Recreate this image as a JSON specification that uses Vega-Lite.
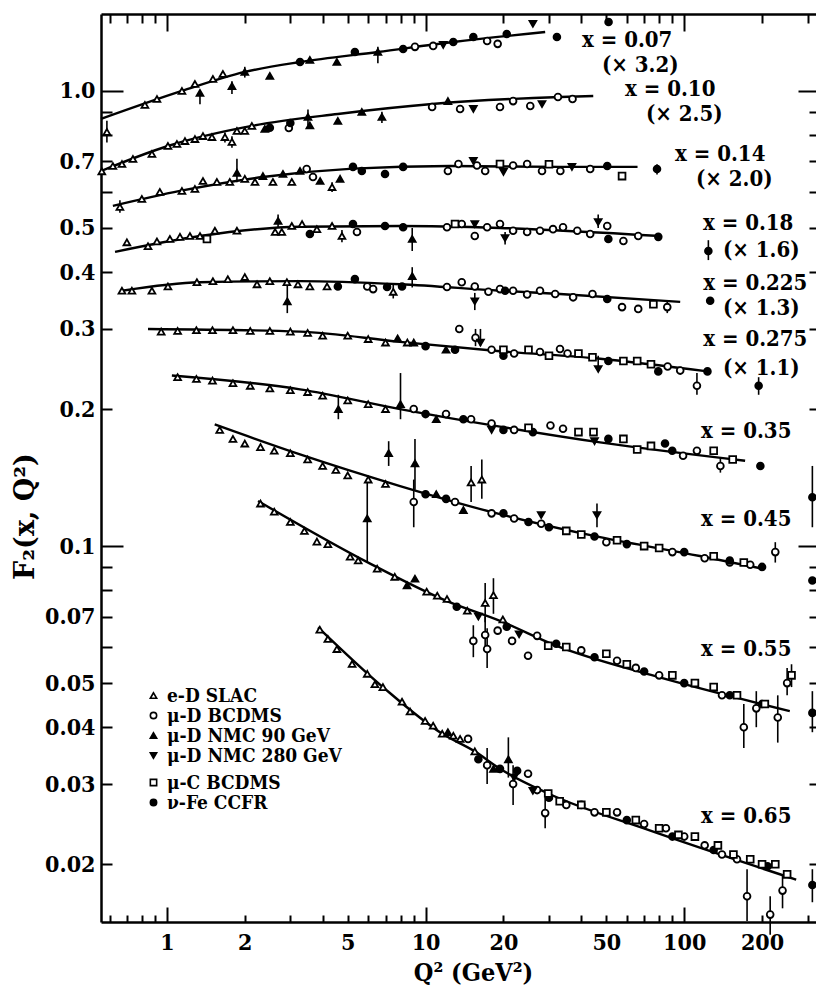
{
  "$schema": "https://vega.github.io/schema/vega-lite/v6.json",
  "autosize": "none",
  "width": 719,
  "height": 908,
  "padding": {"left": 101, "top": 14, "right": 0, "bottom": 72},
  "background": "white",
  "config": {
    "view": {"stroke": null},
    "font": "DejaVu Serif Condensed, DejaVu Serif",
    "axis": {"grid": false, "domainColor": "black", "domainWidth": 2.5, "tickColor": "black", "tickWidth": 2, "labelColor": "black", "labelFont": "DejaVu Serif Condensed, DejaVu Serif", "labelFontWeight": "bold", "labelFontSize": 23, "titleFont": "DejaVu Serif Condensed, DejaVu Serif", "titleFontWeight": "bold", "titleColor": "black", "titleFontSize": 25, "labelFlush": false, "labelOverlap": false},
    "legend": {"orient": "none", "legendX": 43, "legendY": 672, "title": null, "padding": 0, "rowPadding": -3,
      "symbolSize": 40, "symbolStrokeWidth": 1.6, "labelOffset": 4, "labelLimit": 400,
      "labelFont": "DejaVu Serif Condensed, DejaVu Serif", "labelFontWeight": "bold", "labelFontSize": 19, "labelColor": "black"}
  },
  "datasets": {
    "fits": [
      {"k":"0.07","q":0.556,"f":0.868},{"k":"0.07","q":1.143,"f":1.0},{"k":"0.07","q":2.0,"f":1.101},{"k":"0.07","q":3.27,"f":1.158},{"k":"0.07","q":6.54,"f":1.218},{"k":"0.07","q":12.8,"f":1.281},{"k":"0.07","q":29,"f":1.348},
      {"k":"0.10","q":0.556,"f":0.667},{"k":"0.10","q":1.009,"f":0.757},{"k":"0.10","q":2.13,"f":0.838},{"k":"0.10","q":4.58,"f":0.89},{"k":"0.10","q":10.6,"f":0.936},{"k":"0.10","q":33.2,"f":0.97},{"k":"0.10","q":44.5,"f":0.975},
      {"k":"0.14","q":0.618,"f":0.559},{"k":"0.14","q":1.123,"f":0.603},{"k":"0.14","q":2.35,"f":0.647},{"k":"0.14","q":5.24,"f":0.675},{"k":"0.14","q":12.4,"f":0.684},{"k":"0.14","q":33,"f":0.681},{"k":"0.14","q":66,"f":0.681},
      {"k":"0.18","q":0.63,"f":0.443},{"k":"0.18","q":1.342,"f":0.48},{"k":"0.18","q":3.27,"f":0.503},{"k":"0.18","q":7.97,"f":0.505},{"k":"0.18","q":19.4,"f":0.5},{"k":"0.18","q":80.8,"f":0.48},
      {"k":"0.225","q":0.67,"f":0.364},{"k":"0.225","q":1.342,"f":0.38},{"k":"0.225","q":3.27,"f":0.382},{"k":"0.225","q":7.97,"f":0.376},{"k":"0.225","q":19.4,"f":0.364},{"k":"0.225","q":33.1,"f":0.358},{"k":"0.225","q":96.5,"f":0.344},
      {"k":"0.275","q":0.845,"f":0.3},{"k":"0.275","q":3.27,"f":0.296},{"k":"0.275","q":7.97,"f":0.281},{"k":"0.275","q":19.4,"f":0.268},{"k":"0.275","q":47.3,"f":0.258},{"k":"0.275","q":123,"f":0.242},
      {"k":"0.35","q":1.045,"f":0.237},{"k":"0.35","q":3.27,"f":0.221},{"k":"0.35","q":7.97,"f":0.2},{"k":"0.35","q":19.4,"f":0.183},{"k":"0.35","q":47.3,"f":0.169},{"k":"0.35","q":172,"f":0.154},
      {"k":"0.45","q":1.53,"f":0.185},{"k":"0.45","q":3.27,"f":0.159},{"k":"0.45","q":7.97,"f":0.1355},{"k":"0.45","q":19.4,"f":0.1175},{"k":"0.45","q":47.3,"f":0.1046},{"k":"0.45","q":115,"f":0.0951},{"k":"0.45","q":205,"f":0.089},
      {"k":"0.55","q":2.25,"f":0.1256},{"k":"0.55","q":5.95,"f":0.0922},{"k":"0.55","q":12.1,"f":0.0757},{"k":"0.55","q":19.4,"f":0.0685},{"k":"0.55","q":32.3,"f":0.0603},{"k":"0.55","q":74.4,"f":0.0521},{"k":"0.55","q":256,"f":0.0434},
      {"k":"0.65","q":3.84,"f":0.0663},{"k":"0.65","q":6.84,"f":0.049},{"k":"0.65","q":11.6,"f":0.0387},{"k":"0.65","q":15.5,"f":0.0354},{"k":"0.65","q":19.4,"f":0.0324},{"k":"0.65","q":29.8,"f":0.0286},{"k":"0.65","q":74,"f":0.0237},{"k":"0.65","q":271,"f":0.0185}
    ],
    "pts": [
      {"q":0.586,"f":0.813,"s":"A","lo":0.77,"hi":0.86},{"q":0.822,"f":0.932,"s":"A"},{"q":0.915,"f":0.96,"s":"A"},{"q":1.143,"f":1.0,"s":"A"},{"q":1.283,"f":1.036,"s":"A"},{"q":1.506,"f":1.063,"s":"A"},{"q":1.646,"f":1.09,"s":"A"},
      {"q":1.342,"f":0.99,"s":"C","lo":0.935,"hi":1.0},{"q":1.784,"f":1.025,"s":"C","lo":0.985,"hi":1.05},{"q":2.0,"f":1.101,"s":"C","lo":1.07,"hi":1.13},{"q":2.5,"f":1.079,"s":"C"},{"q":3.57,"f":1.17,"s":"C"},{"q":4.54,"f":1.158,"s":"C"},{"q":6.54,"f":1.218,"s":"C","lo":1.15,"hi":1.25},
      {"q":3.27,"f":1.158,"s":"F"},{"q":5.33,"f":1.218,"s":"F"},{"q":8.19,"f":1.237,"s":"F"},{"q":12.8,"f":1.281,"s":"F"},{"q":15.3,"f":1.314,"s":"F"},{"q":20.6,"f":1.334,"s":"F"},{"q":32.2,"f":1.314,"s":"F"},{"q":51,"f":1.418,"s":"F"},
      {"q":9.1,"f":1.25,"s":"B"},{"q":10.7,"f":1.256,"s":"B"},{"q":17.3,"f":1.288,"s":"B"},{"q":19.0,"f":1.269,"s":"B"},
      {"q":11.7,"f":1.262,"s":"D"},{"q":26.0,"f":1.404,"s":"D"},

      {"q":0.56,"f":0.666,"s":"A"},{"q":0.618,"f":0.684,"s":"A"},{"q":0.67,"f":0.691,"s":"A"},{"q":0.739,"f":0.709,"s":"A"},{"q":0.875,"f":0.727,"s":"A"},{"q":1.009,"f":0.757,"s":"A"},{"q":1.093,"f":0.765,"s":"A"},{"q":1.174,"f":0.776,"s":"A"},{"q":1.283,"f":0.784,"s":"A"},{"q":1.378,"f":0.796,"s":"A"},{"q":1.493,"f":0.792,"s":"A"},{"q":1.676,"f":0.792,"s":"A","lo":0.77,"hi":0.81},{"q":1.784,"f":0.773,"s":"A","lo":0.75,"hi":0.795},{"q":1.865,"f":0.817,"s":"A"},{"q":2.0,"f":0.817,"s":"A"},{"q":2.13,"f":0.838,"s":"A"},
      {"q":2.39,"f":0.825,"s":"C"},{"q":3.51,"f":0.877,"s":"C","lo":0.84,"hi":0.91},{"q":3.57,"f":0.84,"s":"C"},{"q":4.58,"f":0.859,"s":"C"},{"q":5.67,"f":0.899,"s":"C"},{"q":6.78,"f":0.877,"s":"C","lo":0.85,"hi":0.9},{"q":12.2,"f":0.95,"s":"C"},
      {"q":2.5,"f":0.83,"s":"F"},{"q":3.0,"f":0.85,"s":"F"},
      {"q":2.96,"f":0.829,"s":"B"},{"q":10.6,"f":0.922,"s":"B"},{"q":13.6,"f":0.913,"s":"B"},{"q":19.4,"f":0.922,"s":"B"},{"q":21.8,"f":0.95,"s":"B"},{"q":25.4,"f":0.927,"s":"B"},{"q":32.5,"f":0.97,"s":"B"},{"q":37,"f":0.96,"s":"B"},
      {"q":15.3,"f":0.913,"s":"D"},{"q":28.2,"f":0.936,"s":"D"},

      {"q":0.658,"f":0.556,"s":"A","lo":0.54,"hi":0.575},{"q":0.8,"f":0.579,"s":"A"},{"q":0.939,"f":0.6,"s":"A"},{"q":1.143,"f":0.603,"s":"A"},{"q":1.283,"f":0.609,"s":"A"},{"q":1.378,"f":0.634,"s":"A"},{"q":1.56,"f":0.631,"s":"A"},{"q":1.75,"f":0.631,"s":"A"},{"q":2.0,"f":0.641,"s":"A"},{"q":2.19,"f":0.631,"s":"A"},{"q":2.57,"f":0.631,"s":"A"},{"q":3.04,"f":0.631,"s":"A"},{"q":4.35,"f":0.615,"s":"A","lo":0.6,"hi":0.63},
      {"q":1.865,"f":0.661,"s":"C","lo":0.63,"hi":0.71},{"q":2.35,"f":0.65,"s":"C"},{"q":2.81,"f":0.657,"s":"C"},{"q":3.27,"f":0.667,"s":"C"},{"q":3.91,"f":0.634,"s":"C"},{"q":4.67,"f":0.641,"s":"C"},
      {"q":3.47,"f":0.674,"s":"B"},{"q":3.67,"f":0.647,"s":"B"},{"q":12.2,"f":0.667,"s":"B"},{"q":13.4,"f":0.691,"s":"B"},{"q":15.8,"f":0.686,"s":"B"},{"q":17.0,"f":0.667,"s":"B"},{"q":21.8,"f":0.686,"s":"B"},{"q":24.7,"f":0.691,"s":"B"},{"q":28.2,"f":0.667,"s":"B"},{"q":33.2,"f":0.667,"s":"B"},{"q":43.3,"f":0.674,"s":"B"},
      {"q":5.24,"f":0.681,"s":"F"},{"q":5.67,"f":0.667,"s":"F"},{"q":6.97,"f":0.657,"s":"F"},{"q":8.19,"f":0.681,"s":"F"},{"q":50.4,"f":0.684,"s":"F"},{"q":78.5,"f":0.674,"s":"F","lo":0.655,"hi":0.69},
      {"q":19.4,"f":0.691,"s":"E"},{"q":30,"f":0.69,"s":"E"},{"q":57.5,"f":0.65,"s":"E"},
      {"q":15.3,"f":0.702,"s":"D"},{"q":20.0,"f":0.664,"s":"D"},{"q":36.8,"f":0.681,"s":"D"},

      {"q":0.7,"f":0.465,"s":"A"},{"q":0.845,"f":0.456,"s":"A"},{"q":0.915,"f":0.467,"s":"A"},{"q":1.027,"f":0.473,"s":"A"},{"q":1.123,"f":0.478,"s":"A"},{"q":1.227,"f":0.48,"s":"A"},{"q":1.342,"f":0.48,"s":"A"},{"q":1.533,"f":0.493,"s":"A"},{"q":1.865,"f":0.493,"s":"A"},{"q":2.62,"f":0.49,"s":"A"},{"q":2.78,"f":0.49,"s":"A"},{"q":3.04,"f":0.505,"s":"A"},{"q":3.33,"f":0.51,"s":"A"},{"q":3.8,"f":0.497,"s":"A"},{"q":4.35,"f":0.505,"s":"A"},{"q":4.75,"f":0.48,"s":"A","lo":0.465,"hi":0.495},
      {"q":1.428,"f":0.473,"s":"E"},{"q":13.0,"f":0.51,"s":"E"},
      {"q":2.69,"f":0.518,"s":"C","lo":0.5,"hi":0.535},{"q":8.88,"f":0.473,"s":"C","lo":0.445,"hi":0.5},
      {"q":3.57,"f":0.485,"s":"F"},{"q":5.24,"f":0.51,"s":"F"},{"q":6.97,"f":0.505,"s":"F"},{"q":8.19,"f":0.502,"s":"F"},{"q":50.9,"f":0.473,"s":"F"},{"q":79.4,"f":0.478,"s":"F"},{"q":124,"f":0.445,"s":"F","lo":0.425,"hi":0.47},
      {"q":5.43,"f":0.49,"s":"B"},{"q":12.1,"f":0.502,"s":"B"},{"q":13.8,"f":0.51,"s":"B"},{"q":15.5,"f":0.48,"s":"B"},{"q":17.3,"f":0.502,"s":"B"},{"q":19.4,"f":0.51,"s":"B"},{"q":21.8,"f":0.493,"s":"B"},{"q":24.7,"f":0.49,"s":"B"},{"q":27.7,"f":0.493,"s":"B"},{"q":31.1,"f":0.497,"s":"B"},{"q":34,"f":0.502,"s":"B"},{"q":38.6,"f":0.493,"s":"B"},{"q":43.3,"f":0.485,"s":"B"},{"q":50.4,"f":0.505,"s":"B"},{"q":58.2,"f":0.468,"s":"B"},{"q":66.4,"f":0.48,"s":"B"},
      {"q":15.5,"f":0.51,"s":"D"},{"q":20.3,"f":0.475,"s":"D","lo":0.46,"hi":0.49},{"q":46.5,"f":0.515,"s":"D","lo":0.5,"hi":0.535},

      {"q":0.67,"f":0.364,"s":"A"},{"q":0.732,"f":0.364,"s":"A"},{"q":0.875,"f":0.364,"s":"A"},{"q":1.009,"f":0.372,"s":"A"},{"q":1.306,"f":0.38,"s":"A"},{"q":1.506,"f":0.382,"s":"A"},{"q":1.72,"f":0.386,"s":"A"},{"q":2.0,"f":0.39,"s":"A"},{"q":2.23,"f":0.376,"s":"A"},{"q":2.5,"f":0.382,"s":"A"},{"q":2.91,"f":0.38,"s":"A"},{"q":3.21,"f":0.376,"s":"A"},{"q":3.57,"f":0.372,"s":"A"},{"q":4.16,"f":0.372,"s":"A"},{"q":7.5,"f":0.362,"s":"A","lo":0.35,"hi":0.375},
      {"q":2.92,"f":0.345,"s":"C","lo":0.325,"hi":0.375},{"q":8.88,"f":0.392,"s":"C","lo":0.37,"hi":0.41},
      {"q":4.58,"f":0.372,"s":"F"},{"q":5.33,"f":0.386,"s":"F"},{"q":7.1,"f":0.371,"s":"F"},{"q":8.11,"f":0.372,"s":"F"},{"q":20.3,"f":0.364,"s":"F"},{"q":50.4,"f":0.349,"s":"F"},{"q":126,"f":0.346,"s":"F"},
      {"q":5.95,"f":0.372,"s":"B"},{"q":6.27,"f":0.367,"s":"B"},{"q":12.1,"f":0.371,"s":"B"},{"q":13.8,"f":0.38,"s":"B"},{"q":15.5,"f":0.372,"s":"B"},{"q":17.5,"f":0.362,"s":"B"},{"q":19.4,"f":0.367,"s":"B"},{"q":21.8,"f":0.364,"s":"B"},{"q":24.7,"f":0.357,"s":"B"},{"q":27.7,"f":0.364,"s":"B"},{"q":31.7,"f":0.358,"s":"B"},{"q":37.2,"f":0.352,"s":"B"},{"q":44.2,"f":0.358,"s":"B"},{"q":57.5,"f":0.335,"s":"B"},{"q":66.4,"f":0.332,"s":"B"},{"q":86,"f":0.335,"s":"B","lo":0.325,"hi":0.345},
      {"q":76,"f":0.34,"s":"E"},
      {"q":15.5,"f":0.345,"s":"D","lo":0.33,"hi":0.36},

      {"q":0.95,"f":0.296,"s":"A"},{"q":1.1,"f":0.297,"s":"A"},{"q":1.3,"f":0.298,"s":"A"},{"q":1.5,"f":0.298,"s":"A"},{"q":1.8,"f":0.298,"s":"A"},{"q":2.1,"f":0.297,"s":"A"},{"q":2.5,"f":0.297,"s":"A"},{"q":3,"f":0.296,"s":"A"},{"q":3.5,"f":0.294,"s":"A"},{"q":4,"f":0.29,"s":"A"},{"q":5,"f":0.29,"s":"A"},{"q":6,"f":0.285,"s":"A"},{"q":7,"f":0.28,"s":"A"},{"q":8.5,"f":0.28,"s":"A"},
      {"q":7.8,"f":0.286,"s":"C"},{"q":9,"f":0.28,"s":"C"},{"q":12,"f":0.27,"s":"C"},
      {"q":10,"f":0.275,"s":"F"},{"q":13,"f":0.27,"s":"F"},{"q":20,"f":0.262,"s":"F"},{"q":50.9,"f":0.255,"s":"F"},{"q":79.4,"f":0.242,"s":"F"},{"q":123,"f":0.242,"s":"F"},{"q":194,"f":0.225,"s":"F","lo":0.215,"hi":0.235},
      {"q":13.5,"f":0.3,"s":"B"},{"q":15.6,"f":0.287,"s":"B","lo":0.275,"hi":0.3},{"q":18,"f":0.27,"s":"B"},{"q":22,"f":0.265,"s":"B"},{"q":27.7,"f":0.267,"s":"B"},{"q":33.1,"f":0.271,"s":"B"},{"q":35.4,"f":0.265,"s":"B"},{"q":86.3,"f":0.248,"s":"B"},{"q":96.5,"f":0.243,"s":"B"},{"q":112,"f":0.225,"s":"B","lo":0.215,"hi":0.24},
      {"q":20,"f":0.27,"s":"E"},{"q":25,"f":0.27,"s":"E"},{"q":30,"f":0.262,"s":"E"},{"q":39,"f":0.265,"s":"E"},{"q":44.2,"f":0.26,"s":"E"},{"q":58.2,"f":0.255,"s":"E"},{"q":65.8,"f":0.255,"s":"E"},{"q":74.4,"f":0.251,"s":"E"},
      {"q":16.3,"f":0.28,"s":"D","lo":0.275,"hi":0.3},{"q":46.5,"f":0.245,"s":"D","lo":0.243,"hi":0.262},

      {"q":1.1,"f":0.235,"s":"A"},{"q":1.3,"f":0.233,"s":"A"},{"q":1.5,"f":0.231,"s":"A"},{"q":1.8,"f":0.228,"s":"A"},{"q":2.1,"f":0.225,"s":"A"},{"q":2.5,"f":0.222,"s":"A"},{"q":3.0,"f":0.22,"s":"A"},{"q":3.5,"f":0.218,"s":"A"},{"q":4,"f":0.214,"s":"A"},{"q":5,"f":0.209,"s":"A"},{"q":6,"f":0.205,"s":"A"},{"q":7,"f":0.2,"s":"A"},
      {"q":4.6,"f":0.2,"s":"C","lo":0.19,"hi":0.215},{"q":8,"f":0.205,"s":"C","lo":0.19,"hi":0.24},{"q":11,"f":0.19,"s":"C"},
      {"q":10,"f":0.195,"s":"F"},{"q":14,"f":0.19,"s":"F"},{"q":20,"f":0.18,"s":"F"},{"q":26,"f":0.178,"s":"F"},{"q":50.9,"f":0.172,"s":"F"},{"q":84.3,"f":0.168,"s":"F"},{"q":89.9,"f":0.162,"s":"F"},{"q":197,"f":0.15,"s":"F"},
      {"q":9,"f":0.2,"s":"B"},{"q":12,"f":0.195,"s":"B"},{"q":15,"f":0.19,"s":"B"},{"q":18,"f":0.186,"s":"B"},{"q":22,"f":0.18,"s":"B"},{"q":30.4,"f":0.184,"s":"B"},{"q":34,"f":0.181,"s":"B"},{"q":99,"f":0.158,"s":"B"},{"q":112,"f":0.162,"s":"B"},{"q":138,"f":0.15,"s":"B","lo":0.145,"hi":0.156},
      {"q":25,"f":0.182,"s":"E"},{"q":39,"f":0.178,"s":"E"},{"q":44.6,"f":0.178,"s":"E"},{"q":58.2,"f":0.172,"s":"E"},{"q":65.8,"f":0.163,"s":"E"},{"q":74.4,"f":0.166,"s":"E"},{"q":130,"f":0.162,"s":"E"},{"q":154,"f":0.155,"s":"E"},
      {"q":18,"f":0.18,"s":"D"},{"q":45,"f":0.17,"s":"D"},

      {"q":1.6,"f":0.18,"s":"A"},{"q":1.8,"f":0.172,"s":"A"},{"q":2.0,"f":0.168,"s":"A"},{"q":2.3,"f":0.165,"s":"A"},{"q":2.6,"f":0.162,"s":"A"},{"q":3,"f":0.16,"s":"A"},{"q":3.5,"f":0.155,"s":"A"},{"q":4,"f":0.15,"s":"A"},{"q":4.5,"f":0.147,"s":"A"},{"q":5,"f":0.143,"s":"A"},{"q":6,"f":0.14,"s":"A"},{"q":7,"f":0.137,"s":"A"},{"q":15,"f":0.138,"s":"A","lo":0.125,"hi":0.15},{"q":16.5,"f":0.14,"s":"A","lo":0.127,"hi":0.155},
      {"q":5.95,"f":0.115,"s":"C","lo":0.0922,"hi":0.14},{"q":7.2,"f":0.16,"s":"C","lo":0.15,"hi":0.17},{"q":9.1,"f":0.152,"s":"C","lo":0.133,"hi":0.172},{"q":11,"f":0.13,"s":"C"},{"q":14,"f":0.12,"s":"C"},
      {"q":10,"f":0.13,"s":"F"},{"q":12,"f":0.127,"s":"F"},{"q":20,"f":0.118,"s":"F"},{"q":25,"f":0.113,"s":"F"},{"q":30,"f":0.11,"s":"F"},{"q":45,"f":0.105,"s":"F"},{"q":60,"f":0.101,"s":"F"},{"q":100,"f":0.097,"s":"F"},{"q":150,"f":0.093,"s":"F"},{"q":200,"f":0.09,"s":"F"},
      {"q":9,"f":0.125,"s":"B","lo":0.11,"hi":0.14},{"q":13,"f":0.125,"s":"B"},{"q":18,"f":0.118,"s":"B"},{"q":22,"f":0.115,"s":"B"},{"q":28,"f":0.112,"s":"B"},{"q":50,"f":0.102,"s":"B"},{"q":90,"f":0.097,"s":"B"},{"q":120,"f":0.094,"s":"B"},{"q":150,"f":0.092,"s":"B"},{"q":180,"f":0.091,"s":"B"},{"q":225,"f":0.097,"s":"B","lo":0.092,"hi":0.102},
      {"q":35,"f":0.108,"s":"E"},{"q":40,"f":0.106,"s":"E"},{"q":55,"f":0.103,"s":"E"},{"q":70,"f":0.1,"s":"E"},{"q":80,"f":0.099,"s":"E"},{"q":130,"f":0.095,"s":"E"},{"q":170,"f":0.092,"s":"E"},
      {"q":28,"f":0.117,"s":"D"},{"q":46,"f":0.117,"s":"D","lo":0.11,"hi":0.124},

      {"q":2.3,"f":0.124,"s":"A"},{"q":2.6,"f":0.119,"s":"A"},{"q":3.0,"f":0.113,"s":"A"},{"q":3.4,"f":0.108,"s":"A"},{"q":3.8,"f":0.1023,"s":"A"},{"q":4.19,"f":0.101,"s":"A"},{"q":5.11,"f":0.0948,"s":"A"},{"q":5.49,"f":0.093,"s":"A"},{"q":6.5,"f":0.0892,"s":"A"},{"q":7.6,"f":0.0856,"s":"A"},{"q":10.1,"f":0.0794,"s":"A"},{"q":11.1,"f":0.0778,"s":"A"},{"q":12.1,"f":0.0765,"s":"A"},{"q":14.5,"f":0.0721,"s":"A"},{"q":17.0,"f":0.075,"s":"A","lo":0.068,"hi":0.083},{"q":18.3,"f":0.078,"s":"A","lo":0.071,"hi":0.085},{"q":19.9,"f":0.069,"s":"A"},
      {"q":8.48,"f":0.082,"s":"C"},{"q":9.1,"f":0.0848,"s":"C"},
      {"q":13.2,"f":0.0736,"s":"F"},{"q":20.6,"f":0.0665,"s":"F"},{"q":32,"f":0.061,"s":"F"},{"q":45,"f":0.057,"s":"F"},{"q":70,"f":0.053,"s":"F"},{"q":100,"f":0.05,"s":"F"},{"q":150,"f":0.047,"s":"F"},{"q":200,"f":0.045,"s":"F"},
      {"q":15.3,"f":0.0619,"s":"B","lo":0.057,"hi":0.067},{"q":17.3,"f":0.0594,"s":"B","lo":0.054,"hi":0.066},{"q":17.0,"f":0.0638,"s":"B","lo":0.06,"hi":0.07},{"q":19.0,"f":0.0652,"s":"B"},{"q":21.6,"f":0.0619,"s":"B"},{"q":24.9,"f":0.0574,"s":"B"},{"q":27,"f":0.0635,"s":"B"},{"q":40,"f":0.059,"s":"B"},{"q":55,"f":0.056,"s":"B"},{"q":65,"f":0.054,"s":"B"},{"q":80,"f":0.052,"s":"B"},{"q":140,"f":0.047,"s":"B"},{"q":170,"f":0.04,"s":"B","lo":0.036,"hi":0.045},{"q":190,"f":0.044,"s":"B","lo":0.04,"hi":0.048},{"q":230,"f":0.042,"s":"B","lo":0.037,"hi":0.047},{"q":250,"f":0.05,"s":"B","lo":0.047,"hi":0.054},
      {"q":29.8,"f":0.0604,"s":"E"},{"q":35,"f":0.06,"s":"E"},{"q":50,"f":0.058,"s":"E"},{"q":60,"f":0.055,"s":"E"},{"q":90,"f":0.052,"s":"E"},{"q":110,"f":0.05,"s":"E"},{"q":130,"f":0.049,"s":"E"},{"q":160,"f":0.047,"s":"E"},{"q":205,"f":0.045,"s":"E"},{"q":260,"f":0.052,"s":"E","lo":0.049,"hi":0.055},
      {"q":16,"f":0.07,"s":"D"},{"q":23,"f":0.064,"s":"D"},

      {"q":3.9,"f":0.0655,"s":"A"},{"q":4.19,"f":0.0625,"s":"A"},{"q":4.54,"f":0.0594,"s":"A"},{"q":5.2,"f":0.0551,"s":"A"},{"q":5.95,"f":0.0524,"s":"A"},{"q":6.37,"f":0.0497,"s":"A"},{"q":6.84,"f":0.049,"s":"A"},{"q":8.11,"f":0.0455,"s":"A"},{"q":8.71,"f":0.0433,"s":"A"},{"q":9.96,"f":0.0413,"s":"A"},{"q":10.7,"f":0.0403,"s":"A"},{"q":11.6,"f":0.0387,"s":"A"},{"q":12.8,"f":0.0383,"s":"A"},{"q":13.6,"f":0.0377,"s":"A"},{"q":15.5,"f":0.0354,"s":"A"},
      {"q":12.2,"f":0.039,"s":"C"},{"q":18.3,"f":0.0324,"s":"C"},{"q":20.9,"f":0.034,"s":"C","lo":0.031,"hi":0.038},
      {"q":16,"f":0.034,"s":"F"},{"q":19.4,"f":0.0324,"s":"F"},{"q":22.6,"f":0.0321,"s":"F"},{"q":30,"f":0.028,"s":"F"},{"q":40,"f":0.027,"s":"F"},{"q":60,"f":0.025,"s":"F"},{"q":90,"f":0.023,"s":"F"},{"q":130,"f":0.0215,"s":"F"},{"q":210,"f":0.0198,"s":"F"},
      {"q":14.6,"f":0.0377,"s":"B"},{"q":17.3,"f":0.033,"s":"B","lo":0.03,"hi":0.036},{"q":21.8,"f":0.03,"s":"B","lo":0.027,"hi":0.033},{"q":24.9,"f":0.0316,"s":"B"},{"q":27.0,"f":0.0291,"s":"B"},{"q":29.0,"f":0.0259,"s":"B","lo":0.024,"hi":0.028},{"q":35,"f":0.027,"s":"B"},{"q":45,"f":0.026,"s":"B"},{"q":55,"f":0.026,"s":"B"},{"q":70,"f":0.0245,"s":"B"},{"q":85,"f":0.024,"s":"B"},{"q":100,"f":0.023,"s":"B"},{"q":120,"f":0.022,"s":"B"},{"q":140,"f":0.021,"s":"B"},{"q":160,"f":0.0205,"s":"B"},{"q":175,"f":0.017,"s":"B","lo":0.015,"hi":0.0195},{"q":215,"f":0.0155,"s":"B","lo":0.014,"hi":0.017},{"q":240,"f":0.0175,"s":"B","lo":0.016,"hi":0.019},
      {"q":29.8,"f":0.0286,"s":"E"},{"q":33,"f":0.0275,"s":"E"},{"q":40,"f":0.027,"s":"E"},{"q":50,"f":0.026,"s":"E"},{"q":65,"f":0.025,"s":"E"},{"q":80,"f":0.024,"s":"E"},{"q":95,"f":0.0232,"s":"E"},{"q":110,"f":0.023,"s":"E"},{"q":135,"f":0.022,"s":"E"},{"q":155,"f":0.021,"s":"E"},{"q":180,"f":0.0205,"s":"E"},{"q":200,"f":0.02,"s":"E"},{"q":225,"f":0.02,"s":"E"},{"q":250,"f":0.019,"s":"E"},
      {"q":22,"f":0.031,"s":"D"},{"q":26,"f":0.029,"s":"D"},

      {"q":313,"f":0.128,"s":"F","lo":0.11,"hi":0.15},{"q":313,"f":0.084,"s":"F"},{"q":313,"f":0.043,"s":"F","lo":0.039,"hi":0.048},{"q":313,"f":0.018,"s":"F","lo":0.0165,"hi":0.0195}
    ],
    "labs": [
      {"q":60.2,"f":1.295,"t":"x = 0.07"},{"q":67.6,"f":1.141,"t":"(× 3.2)"},
      {"q":88.3,"f":1.008,"t":"x = 0.10"},{"q":100,"f":0.889,"t":"(× 2.5)"},
      {"q":137.8,"f":0.728,"t":"x = 0.14"},{"q":156.1,"f":0.64,"t":"(× 2.0)"},
      {"q":176.8,"f":0.512,"t":"x = 0.18"},{"q":198.6,"f":0.447,"t":"(× 1.6)"},
      {"q":188.3,"f":0.378,"t":"x = 0.225"},{"q":198.6,"f":0.334,"t":"(× 1.3)"},
      {"q":188.3,"f":0.2845,"t":"x = 0.275"},{"q":198.6,"f":0.2465,"t":"(× 1.1)"},
      {"q":173.7,"f":0.179,"t":"x = 0.35"},{"q":173.7,"f":0.1147,"t":"x = 0.45"},
      {"q":173.7,"f":0.0594,"t":"x = 0.55"},{"q":173.7,"f":0.0255,"t":"x = 0.65"}
    ]
  },
  "resolve": {"axis": {"x": "independent", "y": "independent"}, "scale": {"shape": "independent", "fill": "independent", "stroke": "independent"}},
  "layer": [
    {
      "data": {"name": "fits"},
      "mark": {"type": "line", "color": "black", "strokeWidth": 2.4, "interpolate": "monotone"},
      "encoding": {
        "x": {"field": "q", "type": "quantitative", "scale": {"type": "log", "domain": [0.556, 335], "nice": false, "zero": false},
          "axis": {"orient": "bottom", "title": "Q²  (GeV²)", "titlePadding": 6, "titleX": 372,
            "values": [0.6,0.7,0.8,0.9,1,2,3,4,5,6,7,8,9,10,20,30,40,50,60,70,80,90,100,200,300],
            "format": "~g",
            "labelExpr": "indexof([1,2,5,10,20,50,100,200], datum.value) >= 0 ? datum.label : ''",
            "tickSize": {"expr": "indexof([1,10,100], datum.value) >= 0 ? -15 : -7"},
            "labelPadding": {"expr": "indexof([1,10,100], datum.value) >= 0 ? 24 : 16"}}},
        "y": {"field": "f", "type": "quantitative", "scale": {"type": "log", "domain": [0.01493, 1.476], "nice": false, "zero": false},
          "axis": {"orient": "left", "title": "F₂(x, Q²)", "titlePadding": 5, "titleFontSize": 27, "titleFont": "DejaVu Serif", "titleY": 502,
            "values": [0.02,0.03,0.04,0.05,0.06,0.07,0.08,0.09,0.1,0.2,0.3,0.4,0.5,0.6,0.7,0.8,0.9,1],
            "format": "~g",
            "labelExpr": "datum.value == 1 ? '1.0' : (indexof([0.02,0.03,0.04,0.05,0.07,0.1,0.2,0.3,0.4,0.5,0.7], datum.value) >= 0 ? datum.label : '')",
            "tickSize": {"expr": "(datum.value == 1 || datum.value == 0.1) ? -22 : -11"},
            "labelPadding": {"expr": "(datum.value == 1 || datum.value == 0.1) ? 28 : 17"}}},
        "detail": {"field": "k", "type": "nominal"}
      }
    },
    {
      "data": {"name": "pts"},
      "transform": [{"filter": "isValid(datum.lo)"}],
      "mark": {"type": "rule", "color": "black", "strokeWidth": 1.6},
      "encoding": {
        "x": {"field": "q", "type": "quantitative",
          "axis": {"orient": "top", "title": null, "labels": false,
            "values": [0.6,0.7,0.8,0.9,1,2,3,4,5,6,7,8,9,10,20,30,40,50,60,70,80,90,100,200,300],
            "tickSize": {"expr": "indexof([1,10,100], datum.value) >= 0 ? -17 : -9"}}},
        "y": {"field": "lo", "type": "quantitative",
          "axis": {"orient": "right", "title": null, "labels": false,
            "values": [0.02,0.03,0.04,0.05,0.06,0.07,0.08,0.09,0.1,0.2,0.3,0.4,0.5,0.6,0.7,0.8,0.9,1],
            "tickSize": {"expr": "(datum.value == 1 || datum.value == 0.1) ? -22 : -11"}}},
        "y2": {"field": "hi"}
      }
    },
    {
      "data": {"name": "pts"},
      "transform": [{"filter": "indexof(['A','B','C','D'], datum.s) >= 0"}],
      "mark": {"type": "point", "strokeWidth": 1.8, "size": 46, "opacity": 1},
      "encoding": {
        "x": {"field": "q", "type": "quantitative", "axis": null},
        "y": {"field": "f", "type": "quantitative", "axis": null},
        "shape": {"field": "s", "type": "nominal",
          "scale": {"domain": ["A","B","C","D"], "range": ["triangle-up","circle","triangle-up","triangle-down"]},
          "legend": {"legendY": 672, "labelExpr": "datum.value == 'A' ? 'e-D  SLAC' : datum.value == 'B' ? 'μ-D  BCDMS' : datum.value == 'C' ? 'μ-D  NMC 90 GeV' : 'μ-D  NMC 280 GeV'"}},
        "fill": {"field": "s", "type": "nominal",
          "scale": {"domain": ["A","B","C","D"], "range": ["white","white","black","black"]},
          "legend": {"legendY": 672, "labelExpr": "datum.value == 'A' ? 'e-D  SLAC' : datum.value == 'B' ? 'μ-D  BCDMS' : datum.value == 'C' ? 'μ-D  NMC 90 GeV' : 'μ-D  NMC 280 GeV'"}},
        "stroke": {"field": "s", "type": "nominal",
          "scale": {"domain": ["A","B","C","D"], "range": ["black","black","black","black"]},
          "legend": {"legendY": 672, "labelExpr": "datum.value == 'A' ? 'e-D  SLAC' : datum.value == 'B' ? 'μ-D  BCDMS' : datum.value == 'C' ? 'μ-D  NMC 90 GeV' : 'μ-D  NMC 280 GeV'"}}
      }
    },
    {
      "data": {"name": "pts"},
      "transform": [{"filter": "indexof(['E','F'], datum.s) >= 0"}],
      "mark": {"type": "point", "strokeWidth": 1.8, "size": 46, "opacity": 1},
      "encoding": {
        "x": {"field": "q", "type": "quantitative", "axis": null},
        "y": {"field": "f", "type": "quantitative", "axis": null},
        "shape": {"field": "s", "type": "nominal",
          "scale": {"domain": ["E","F"], "range": ["square","circle"]},
          "legend": {"legendY": 759, "labelExpr": "datum.value == 'E' ? 'μ-C  BCDMS' : 'ν-Fe CCFR'"}},
        "fill": {"field": "s", "type": "nominal",
          "scale": {"domain": ["E","F"], "range": ["white","black"]},
          "legend": {"legendY": 759, "labelExpr": "datum.value == 'E' ? 'μ-C  BCDMS' : 'ν-Fe CCFR'"}},
        "stroke": {"field": "s", "type": "nominal",
          "scale": {"domain": ["E","F"], "range": ["black","black"]},
          "legend": {"legendY": 759, "labelExpr": "datum.value == 'E' ? 'μ-C  BCDMS' : 'ν-Fe CCFR'"}}
      }
    },
    {
      "data": {"name": "labs"},
      "mark": {"type": "text", "font": "DejaVu Serif Condensed, DejaVu Serif", "fontWeight": "bold", "fontSize": 22, "align": "center", "baseline": "middle", "color": "black"},
      "encoding": {
        "x": {"field": "q", "type": "quantitative", "axis": null},
        "y": {"field": "f", "type": "quantitative", "axis": null},
        "text": {"field": "t"}
      }
    }
  ]
}
